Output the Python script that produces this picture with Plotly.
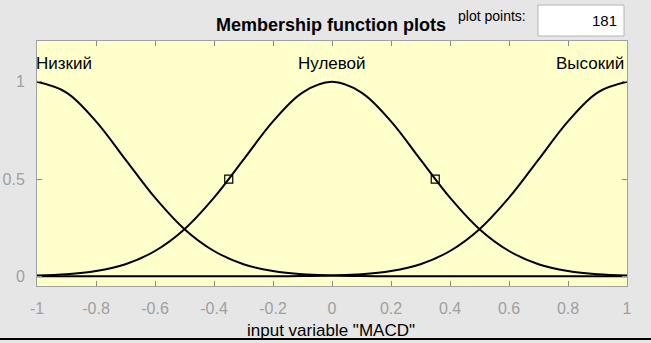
import plotly.graph_objects as go

# ---- data ----
x_vals = [-1.0, -0.9, -0.8, -0.7, -0.6, -0.5, -0.4, -0.3, -0.2, -0.1, 0.0,
          0.1, 0.2, 0.3, 0.4, 0.5, 0.6, 0.7, 0.8, 0.9, 1.0]
low_vals = [1.0, 0.945, 0.797, 0.600, 0.404, 0.242, 0.130, 0.062, 0.027, 0.010, 0.004,
            0.001, 0.0, 0.0, 0.0, 0.0, 0.0, 0.0, 0.0, 0.0, 0.0]
zero_vals = [0.004, 0.010, 0.027, 0.062, 0.130, 0.242, 0.404, 0.600, 0.797, 0.945, 1.0,
             0.945, 0.797, 0.600, 0.404, 0.242, 0.130, 0.062, 0.027, 0.010, 0.004]
high_vals = [0.0, 0.0, 0.0, 0.0, 0.0, 0.0, 0.0, 0.0, 0.0, 0.001, 0.004,
             0.010, 0.027, 0.062, 0.130, 0.242, 0.404, 0.600, 0.797, 0.945, 1.0]
mf_names = ["Низкий", "Нулевой", "Высокий"]
mf_label_x = [-1.0, 0.0, 1.0]
marker_x = [-0.35, 0.35]
marker_y = [0.5, 0.5]
x_ticks = [-1, -0.8, -0.6, -0.4, -0.2, 0, 0.2, 0.4, 0.6, 0.8, 1]
x_tick_text = ["-1", "-0.8", "-0.6", "-0.4", "-0.2", "0", "0.2", "0.4", "0.6", "0.8", "1"]
y_ticks = [0, 0.5, 1]
y_tick_text = ["0", "0.5", "1"]
plot_points = "181"

W, H = 651, 343
L, R, T, B = 37, 627, 41, 286

def px(xp):
    return (xp - L) / (R - L)

def py(yp):
    return (B - yp) / (B - T)

fig = go.Figure()
for ys in [low_vals, zero_vals, high_vals]:
    fig.add_trace(go.Scatter(x=x_vals, y=ys, mode="lines",
                             line=dict(color="black", width=2, shape="spline", smoothing=1.0),
                             hoverinfo="skip", showlegend=False))
fig.add_trace(go.Scatter(x=marker_x, y=marker_y, mode="markers",
                         marker=dict(symbol="square-open", size=8, color="black",
                                     line=dict(width=1.2, color="black")),
                         showlegend=False))

font_fam = "Liberation Sans, Arial, sans-serif"
anns = []
for name, lx in zip(mf_names, mf_label_x):
    anc = "left" if lx < 0 else ("right" if lx > 0 else "center")
    anns.append(dict(x=lx, y=1.093, xref="x", yref="y", text=name, showarrow=False,
                     xanchor=anc, yanchor="middle",
                     xshift=(-3 if lx < 0 else (-1 if lx > 0 else 0)),
                     font=dict(family=font_fam, size=17, color="black")))
anns.append(dict(x=px(331), y=py(25), xref="paper", yref="paper",
                 text="<b>Membership function plots</b>", showarrow=False,
                 xanchor="center", yanchor="middle",
                 font=dict(family=font_fam, size=18, color="black")))
anns.append(dict(x=px(492), y=py(16), xref="paper", yref="paper",
                 text="plot points:", showarrow=False, xanchor="center", yanchor="middle",
                 font=dict(family=font_fam, size=14, color="black")))
anns.append(dict(x=px(619), y=py(21), xref="paper", yref="paper",
                 text=plot_points, showarrow=False, xanchor="right", yanchor="middle",
                 font=dict(family=font_fam, size=15, color="black")))
anns.append(dict(x=px(331), y=py(330), xref="paper", yref="paper",
                 text='input variable "MACD"', showarrow=False, xanchor="center", yanchor="middle",
                 font=dict(family=font_fam, size=17, color="black")))

shapes = [
    dict(type="rect", xref="paper", yref="paper", x0=px(538), x1=px(624), y0=py(36), y1=py(5),
         fillcolor="white", line=dict(color="#b4b4b4", width=1), layer="above"),
    dict(type="line", xref="paper", yref="paper", x0=px(0), x1=px(651), y0=py(339), y1=py(339),
         line=dict(color="black", width=2)),
]

fig.update_layout(
    width=W, height=H,
    margin=dict(l=L, r=W - R, t=T, b=H - B, autoexpand=False),
    paper_bgcolor="#e6e6e6",
    plot_bgcolor="#ffffcc",
    annotations=anns, shapes=shapes,
    xaxis=dict(range=[-1, 1], tickvals=x_ticks, ticktext=x_tick_text,
               ticks="inside", ticklen=5, tickcolor="#888888",
               showline=True, linecolor="#a0a0a0", mirror="ticks",
               showgrid=False, zeroline=False, ticklabelstandoff=8,
               tickfont=dict(family=font_fam, size=16, color="#a0a0a0")),
    yaxis=dict(range=[-0.05, 1.21], tickvals=y_ticks, ticktext=y_tick_text,
               ticks="inside", ticklen=5, tickcolor="#888888",
               showline=True, linecolor="#a0a0a0", mirror="ticks",
               showgrid=False, zeroline=False, ticklabelstandoff=8,
               tickfont=dict(family=font_fam, size=16, color="#a0a0a0")),
)

fig.write_html("out.html", config={"displayModeBar": False},
               post_script="document.body.style.margin='0';document.body.style.padding='0';")
